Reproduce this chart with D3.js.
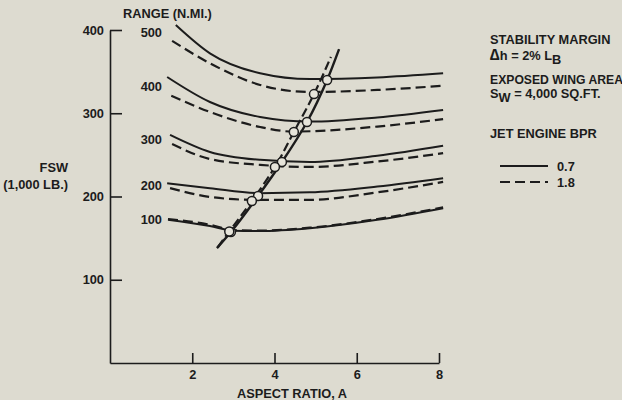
<!DOCTYPE html>
<html>
<head>
<meta charset="utf-8">
<script src="https://cdn.jsdelivr.net/npm/d3@7"></script>
<style>
  body { margin: 0; background: #dddbd0; }
  svg { display: block; }
  text { font-family: "Liberation Sans", Arial, sans-serif; font-weight: bold; fill: #1c1c1c; }
</style>
</head>
<body>
<div id="chart"></div>
<script>
// range (n.mi.) labels for each pair of curves
const ranges = [500, 400, 300, 200, 100];

// FSW (1,000 lb) vs aspect ratio, BPR 0.7 (solid)
const solid = {
  500: [[1.6, 406], [2.43, 372], [3.65, 348], [4.86, 341], [6.5, 343], [8.1, 348]],
  400: [[1.39, 343.5], [2.43, 313.5], [3.65, 295.5], [4.86, 290], [6.5, 295], [8.1, 304]],
  300: [[1.46, 274], [2.43, 253.5], [3.65, 244], [4.86, 241.5], [6.5, 249], [8.1, 261]],
  200: [[1.39, 216], [2.43, 210], [3.65, 204], [4.86, 205], [6.5, 212], [8.1, 222]],
  100: [[1.41, 172], [2.43, 164.5], [3.0, 159], [3.65, 158.6], [4.86, 162], [6.5, 172], [8.1, 186]]
};

// BPR 1.8 (dashed)
const dashed = {
  500: [[1.51, 387], [2.43, 360], [3.65, 334], [4.86, 325.5], [6.5, 328], [8.1, 333]],
  400: [[1.49, 321], [2.43, 301.5], [3.65, 283.5], [4.45, 278], [6.5, 284], [8.1, 293]],
  300: [[1.51, 263], [2.43, 245], [3.65, 238], [4.86, 235.5], [6.5, 242], [8.1, 252]],
  200: [[1.46, 210], [2.43, 199.5], [3.48, 196], [4.86, 196], [6.5, 205], [8.1, 217.5]],
  100: [[1.41, 173], [2.43, 166], [3.0, 159.5], [3.65, 159], [4.86, 162.5], [6.5, 173], [8.1, 187]]
};

// optimum points (circles) and the lines through them
const optSolid = [[2.94, 157.4], [3.60, 200.6], [4.18, 241.4], [4.79, 289.5], [5.28, 340]];
const optDashed = [[2.90, 158], [3.45, 194.6], [4.01, 235.4], [4.47, 277.5], [4.96, 323]];
const optSolidLine = [[2.60, 138], ...optSolid, [5.57, 377]];
const optDashedLine = [[2.62, 139], ...optDashed, [5.37, 367.6]];

const xTicks = [2, 4, 6, 8];
const yTicks = [100, 200, 300, 400];

const width = 622;
const height = 400;
const fs = 12.8;

const x = d3.scaleLinear().domain([0, 8]).range([110, 439]);
const y = d3.scaleLinear().domain([0, 400]).range([363, 30]);

const svg = d3.select("#chart")
  .append("svg")
  .attr("width", width)
  .attr("height", height)
  .attr("font-size", fs);

const ink = "#1c1c1c";

// axes
const xAxis = svg.append("g")
  .attr("transform", `translate(0, ${y(0)})`)
  .call(d3.axisBottom(x).tickValues(xTicks).tickSizeInner(-10).tickSizeOuter(0).tickPadding(7));

const yAxis = svg.append("g")
  .attr("transform", `translate(${x(0)}, 0)`)
  .call(d3.axisLeft(y).tickValues(yTicks).tickSizeInner(-12).tickSizeOuter(0).tickPadding(6));

[xAxis, yAxis].forEach(g => {
  g.attr("font-size", fs).attr("font-family", null);
  g.selectAll("path, line").attr("stroke", ink).attr("stroke-width", 1.6);
  g.selectAll("text").attr("fill", ink);
});

const line = d3.line()
  .x(d => x(d[0]))
  .y(d => y(d[1]))
  .curve(d3.curveMonotoneX);

// curves
ranges.forEach(r => {
  svg.append("path")
    .attr("d", line(solid[r]))
    .attr("fill", "none")
    .attr("stroke", ink)
    .attr("stroke-width", 2);
  svg.append("path")
    .attr("d", line(dashed[r]))
    .attr("fill", "none")
    .attr("stroke", ink)
    .attr("stroke-width", 2.2)
    .attr("stroke-dasharray", "10,5");
  // range label, between the starts of the two curves
  const ly = (y(solid[r][0][1]) + y(dashed[r][0][1])) / 2;
  svg.append("text")
    .attr("x", 162)
    .attr("y", ly + 4.5)
    .attr("text-anchor", "end")
    .text(r);
});

// optimum lines
const optLine = d3.line()
  .x(d => x(d[0]))
  .y(d => y(d[1]))
  .curve(d3.curveMonotoneY);

svg.append("path")
  .attr("d", optLine(optSolidLine))
  .attr("fill", "none")
  .attr("stroke", ink)
  .attr("stroke-width", 2.4);

svg.append("path")
  .attr("d", optLine(optDashedLine))
  .attr("fill", "none")
  .attr("stroke", ink)
  .attr("stroke-width", 2.2)
  .attr("stroke-dasharray", "9,4");

// circles
svg.append("g")
  .selectAll("circle")
  .data(optSolid.concat(optDashed))
  .join("circle")
    .attr("cx", d => x(d[0]))
    .attr("cy", d => y(d[1]))
    .attr("r", 4.5)
    .attr("fill", "#e6e4da")
    .attr("stroke", ink)
    .attr("stroke-width", 1.5);

// axis titles
svg.append("text")
  .attr("x", 123)
  .attr("y", 18)
  .text("RANGE (N.MI.)");

svg.append("text")
  .attr("x", 68)
  .attr("y", 172)
  .attr("text-anchor", "end")
  .text("FSW");

svg.append("text")
  .attr("x", 68)
  .attr("y", 189)
  .attr("text-anchor", "end")
  .text("(1,000 LB.)");

svg.append("text")
  .attr("x", 292)
  .attr("y", 398)
  .attr("text-anchor", "middle")
  .text("ASPECT RATIO, A");

// notes on the right
const notes = svg.append("g").attr("transform", "translate(490, 0)");

notes.append("text").attr("y", 44).text("STABILITY MARGIN");

const dh = notes.append("text").attr("y", 60);
dh.append("tspan").attr("font-size", 16).text("\u2206");
dh.append("tspan").text("h  =  2%  L");
dh.append("tspan").attr("dy", 4).text("B");

notes.append("text").attr("y", 84).attr("font-size", 12.2).text("EXPOSED WING AREA");

const sw = notes.append("text").attr("y", 98);
sw.append("tspan").text("S");
sw.append("tspan").attr("dy", 4).text("W");
sw.append("tspan").attr("dy", -4).text("  =  4,000 SQ.FT.");

notes.append("text").attr("y", 138).text("JET ENGINE BPR");

// legend
const legend = [
  { label: "0.7", dash: null, y: 166 },
  { label: "1.8", dash: "10,5", y: 182 }
];

legend.forEach(d => {
  svg.append("line")
    .attr("x1", 500).attr("x2", 548)
    .attr("y1", d.y).attr("y2", d.y)
    .attr("stroke", ink)
    .attr("stroke-width", 2)
    .attr("stroke-dasharray", d.dash);
  svg.append("text")
    .attr("x", 557)
    .attr("y", d.y + 4.5)
    .text(d.label);
});
</script>
</body>
</html>
